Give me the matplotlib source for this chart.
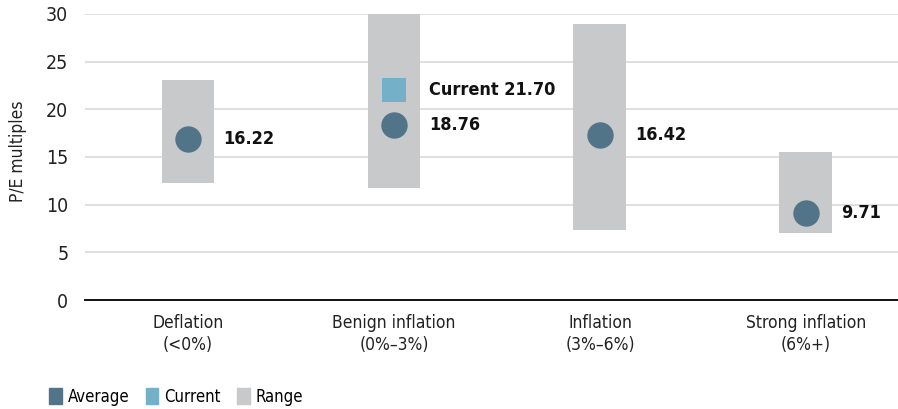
import numpy as np
import matplotlib.pyplot as plt
from matplotlib.patches import Patch

# --- Data ---
categories = ["Deflation\n(<0%)", "Benign inflation\n(0%\u20133%)", "Inflation\n(3%\u20136%)", "Strong inflation\n(6%+)"]
range_low = [12.3, 11.75, 7.35, 7.0]
range_high = [23.1, 30.0, 28.9, 15.5]
avg_pos = [16.9, 18.4, 17.3, 9.1]          # where the dots sit in the picture
avg_labels = ["16.22", "18.76", "16.42", "9.71"]
current_idx = 1
current_pos = 22.0
current_label = "Current 21.70"
yticks = [0, 5, 10, 15, 20, 25, 30]

# --- Colours ---
AVG_COLOR = "#527489"
CUR_COLOR = "#74B1C8"
RANGE_COLOR = "#C8C9CB"
GRID_COLOR = "#D9D9D9"

FONT = dict(family="DejaVu Sans", stretch="condensed")

fig = plt.figure(figsize=(8.98, 4.09), dpi=100)
ax = fig.add_axes([0.0947, 0.2665, 0.9053, 0.6993])

x = np.arange(len(categories))
bar_w = 0.257

# range bars
ax.bar(x, np.array(range_high) - np.array(range_low), bottom=range_low,
       width=bar_w, color=RANGE_COLOR, zorder=2, clip_on=False)

# averages
ax.plot(x, avg_pos, "o", color=AVG_COLOR, markersize=19, markeredgewidth=0, zorder=3)
# current
ax.plot([x[current_idx]], [current_pos], "s", color=CUR_COLOR, markersize=17,
        markeredgewidth=0, zorder=3)

# value labels
for xi, yv, lab in zip(x, avg_pos, avg_labels):
    ax.text(xi + 0.17, yv, lab, ha="left", va="center", fontsize=13,
            fontweight="bold", color="#111111", **FONT)
ax.text(x[current_idx] + 0.17, current_pos, current_label, ha="left", va="center",
        fontsize=13, fontweight="bold", color="#111111", **FONT)

ax.set_xlim(-0.5, 3.447)
ax.set_ylim(0, 30)
ax.set_yticks(yticks)
ax.set_xticks(x)
ax.set_xticklabels(categories, fontsize=12.5, color="#222222", linespacing=1.3, **FONT)
for t in ax.get_yticklabels():
    t.set_fontsize(14)
    t.set_color("#222222")
    t.set_fontfamily(FONT["family"])
    t.set_fontstretch(FONT["stretch"])
ax.tick_params(axis="both", length=0)
ax.tick_params(axis="y", pad=12)
ax.tick_params(axis="x", pad=10)

ax.grid(axis="y", color=GRID_COLOR, linewidth=1.2, zorder=0)
ax.set_axisbelow(True)
for s in ["top", "right", "left"]:
    ax.spines[s].set_visible(False)
ax.spines["bottom"].set_color("#111111")
ax.spines["bottom"].set_linewidth(1.4)

ax.set_ylabel("P/E multiples", fontsize=12.5, color="#222222", **FONT)
ax.yaxis.set_label_coords(-0.072, 0.52)

handles = [Patch(color=AVG_COLOR, label="Average"),
           Patch(color=CUR_COLOR, label="Current"),
           Patch(color=RANGE_COLOR, label="Range")]
leg = fig.legend(handles=handles, loc="center left", bbox_to_anchor=(0.038, 0.03),
                 ncol=3, frameon=False, handlelength=0.75, handleheight=1.1,
                 handletextpad=0.35, columnspacing=1.0,
                 prop=dict(size=12, **FONT))

fig.savefig("out.png", dpi=100)
